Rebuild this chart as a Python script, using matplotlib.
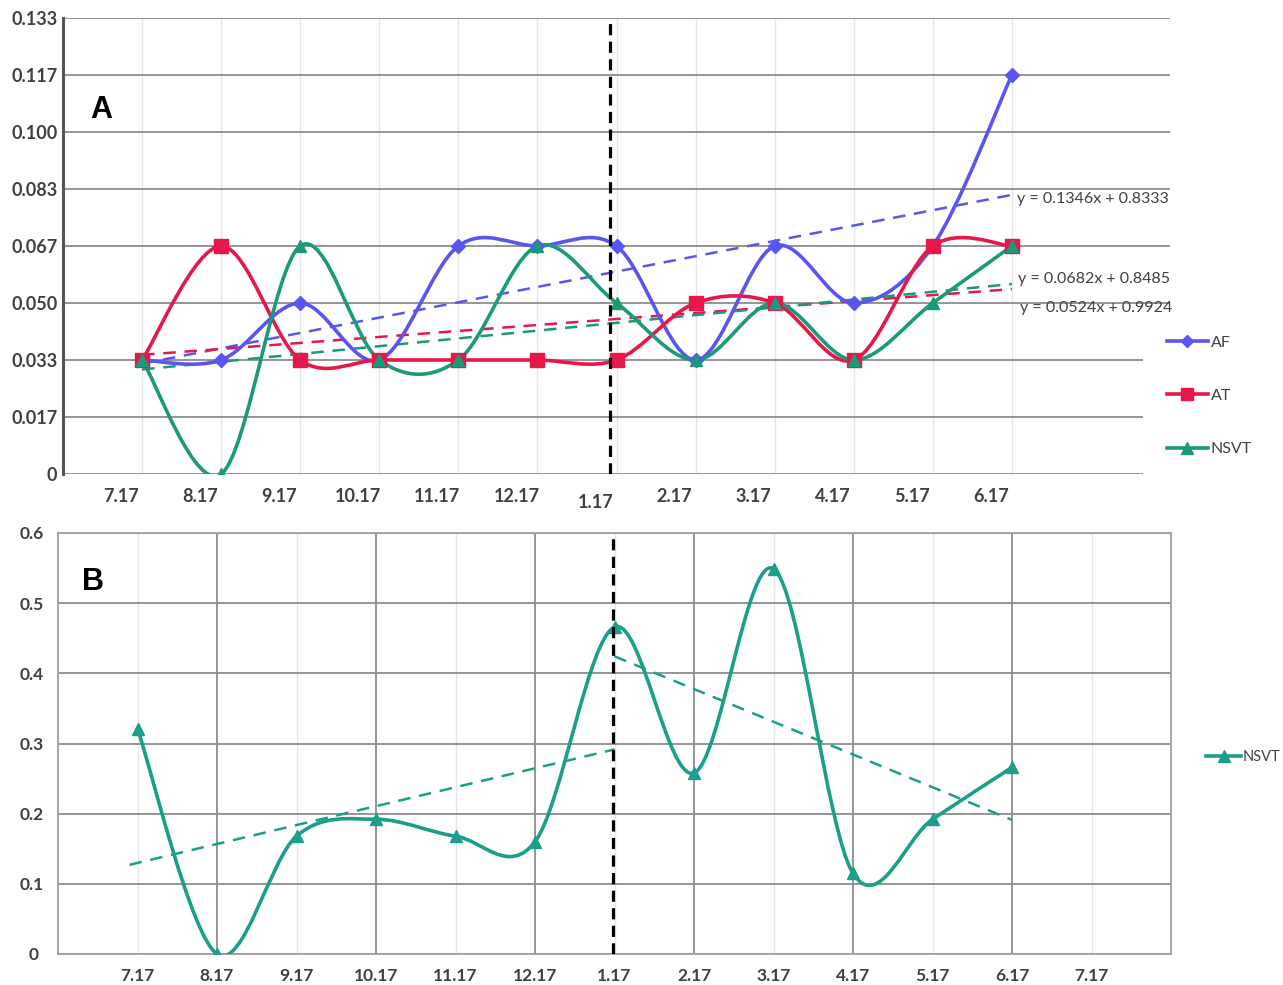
import numpy as np
import matplotlib
matplotlib.use('Agg')
import matplotlib.pyplot as plt
from matplotlib.path import Path
from matplotlib.patches import PathPatch, Rectangle
from matplotlib.lines import Line2D
import matplotlib.transforms as mtransforms

plt.rcParams['font.family'] = ['Lato', 'DejaVu Sans']

# 面板A：每月比例（单位 1/60）
months_a = ['7.17', '8.17', '9.17', '10.17', '11.17', '12.17',
            '1.17', '2.17', '3.17', '4.17', '5.17', '6.17']
af = np.array([2, 2, 3, 2, 4, 4, 4, 2, 4, 3, 4, 7]) / 60
at = np.array([2, 4, 2, 2, 2, 2, 2, 3, 3, 2, 4, 4]) / 60
nsvt_a = np.array([2, 0, 4, 2, 2, 4, 3, 2, 3, 2, 3, 4]) / 60
yticks_a = np.arange(0, 9) / 60
eq_labels = ['y = 0.1346x + 0.8333', 'y = 0.0682x + 0.8485', 'y = 0.0524x + 0.9924']

# 面板B
months_b = ['7.17', '8.17', '9.17', '10.17', '11.17', '12.17',
            '1.17', '2.17', '3.17', '4.17', '5.17', '6.17', '7.17']
nsvt_b = [0.321, 0.0, 0.168, 0.192, 0.168, 0.160, 0.466,
          0.258, 0.549, 0.115, 0.192, 0.266]

C_AF = '#5a55f0'
C_AT = '#e8174a'
C_NS = '#1a9a78'
C_NSB = '#1b9e8a'
GRID_DARK = '#8c8c8c'
GRID_LIGHT = '#e6e6e6'
TXT = '#404040'


def smooth_path(x, y):
    # Excel风格的平滑线（Catmull-Rom 转 Bezier）
    pts = np.column_stack([x, y])
    verts = [pts[0]]
    codes = [Path.MOVETO]
    n = len(pts)
    for i in range(n - 1):
        p0 = pts[i - 1] if i > 0 else pts[i]
        p1 = pts[i]
        p2 = pts[i + 1]
        p3 = pts[i + 2] if i + 2 < n else pts[i + 1]
        verts += [p1 + (p2 - p0) / 6, p2 - (p3 - p1) / 6, p2]
        codes += [Path.CURVE4] * 3
    return Path(verts, codes)


def draw_series(ax, x, y, color, marker, ms):
    ax.add_patch(PathPatch(smooth_path(x, y), facecolor='none', edgecolor=color,
                           lw=2.6, zorder=4, capstyle='round'))
    ax.plot(x, y, linestyle='none', marker=marker, ms=ms, color=color, zorder=5)


fig = plt.figure(figsize=(12.83, 9.85), dpi=100)

# ---------------- 面板 A ----------------
ax1 = fig.add_axes([63 / 1283, 1 - 474 / 985, 1107 / 1283, 456 / 985])
xa = np.arange(1, len(months_a) + 1)
ax1.set_xlim(0, 14)
ax1.set_ylim(0, 8 / 60)
ax1.set_yticks(yticks_a)
ax1.set_yticklabels(['0'] + ['%.3f' % v for v in yticks_a[1:]])
ax1.yaxis.grid(True, color=GRID_DARK, lw=1.3, zorder=0)
for xv in xa:
    ax1.axvline(xv, color=GRID_LIGHT, lw=1.0, zorder=0)
for s in ['top', 'right', 'bottom']:
    ax1.spines[s].set_visible(False)
ax1.spines['left'].set_color('#555555')
ax1.spines['left'].set_linewidth(2.2)
ax1.set_xticks(xa)
ax1.set_xticklabels(months_a)
ax1.tick_params(axis='both', length=0, labelsize=13, labelcolor=TXT)
ax1.tick_params(axis='x', pad=10)
ax1.tick_params(axis='y', pad=4)
for lab in ax1.get_xticklabels() + ax1.get_yticklabels():
    lab.set_fontweight('bold')
shift = mtransforms.ScaledTranslation(-21 / 100, 0, fig.dpi_scale_trans)
for i, lab in enumerate(ax1.get_xticklabels()):
    off = mtransforms.ScaledTranslation(0, -6 / 100 if months_a[i] == '1.17' else 0, fig.dpi_scale_trans)
    lab.set_transform(lab.get_transform() + shift + off)

# 趋势线
for yv, c in [(af, C_AF), (at, C_AT), (nsvt_a, C_NS)]:
    k, b = np.polyfit(xa, yv, 1)
    ax1.plot([1, 12], [k * 1 + b, k * 12 + b], ls=(0, (5, 3.5)), color=c, lw=1.8, zorder=3)

draw_series(ax1, xa, af, C_AF, 'D', 7.5)
draw_series(ax1, xa, at, C_AT, 's', 9.5)
draw_series(ax1, xa, nsvt_a, C_NS, '^', 9)

ax1.axvline(6.92, ymin=0, ymax=1, color='black', lw=2.3, ls=(0, (3.5, 2)), zorder=6)

ax1.text(12.07, 0.0803, eq_labels[0], fontsize=11.5, color=TXT, va='center', ha='left')
ax1.text(12.08, 0.0570, eq_labels[1], fontsize=11.5, color=TXT, va='center', ha='left')
ax1.text(12.1, 0.0485, eq_labels[2], fontsize=11.5, color=TXT, va='center', ha='left')
ax1.text(0.34, 0.1065, 'A', fontsize=22, fontweight='bold', color='black',
         family='Liberation Sans', va='center', ha='left')

# 图例区域的白底（遮住右侧网格线）
fig.add_artist(Rectangle((1143 / 1283, 1 - 480 / 985), 40 / 1283, 160 / 985,
                         transform=fig.transFigure, facecolor='white',
                         edgecolor='none', zorder=1))

handles_a = [Line2D([], [], color=C_AF, marker='D', ms=6, lw=2.6),
             Line2D([], [], color=C_AT, marker='s', ms=9, lw=2.6),
             Line2D([], [], color=C_NS, marker='^', ms=8, lw=2.6)]
leg1 = fig.legend(handles_a, ['AF', 'AT', 'NSVT'], loc='upper left',
                  bbox_to_anchor=(1157 / 1283, 1 - 326 / 985), frameon=False,
                  fontsize=11.5, labelspacing=2.45, handlelength=2.6,
                  handletextpad=0.15, borderpad=0.6, borderaxespad=0)
leg1.set_zorder(2)
for t in leg1.get_texts():
    t.set_color(TXT)

# ---------------- 面板 B ----------------
ax2 = fig.add_axes([58 / 1283, 1 - 954 / 985, 1113 / 1283, 421 / 985])
xb = np.arange(1, len(nsvt_b) + 1)
xlab_b = np.arange(1, len(months_b) + 1)
ax2.set_xlim(0, 14)
ax2.set_ylim(0, 0.6)
ax2.set_yticks(np.arange(0, 0.61, 0.1))
ax2.set_yticklabels(['0', '0.1', '0.2', '0.3', '0.4', '0.5', '0.6'])
ax2.yaxis.grid(True, color=GRID_DARK, lw=1.3, zorder=0)
for xv in xlab_b:
    ax2.axvline(xv, color=GRID_DARK if xv % 2 == 0 else GRID_LIGHT, lw=1.3 if xv % 2 == 0 else 1.0, zorder=0)
for s in ax2.spines.values():
    s.set_color('#a0a0a0')
    s.set_linewidth(1.3)
ax2.set_xticks(xlab_b)
ax2.set_xticklabels(months_b)
ax2.tick_params(axis='x', length=0, labelsize=12.5, labelcolor=TXT, pad=10)
ax2.tick_params(axis='y', length=0, labelsize=12.5, labelcolor=TXT, pad=14)
for lab in ax2.get_xticklabels() + ax2.get_yticklabels():
    lab.set_fontweight('bold')
for lab in ax2.get_yticklabels()[1:]:
    lab.set_transform(lab.get_transform() + mtransforms.ScaledTranslation(5 / 100, 0, fig.dpi_scale_trans))

k1, b1 = np.polyfit(xb[:7], nsvt_b[:7], 1)
ax2.plot([0.9, 7], [k1 * 0.9 + b1, k1 * 7 + b1], ls=(0, (5, 3.5)), color=C_NSB, lw=1.8, zorder=3)
k2, b2 = np.polyfit(xb[6:], nsvt_b[6:], 1)
ax2.plot([7, 12], [k2 * 7 + b2, k2 * 12 + b2], ls=(0, (5, 3.5)), color=C_NSB, lw=1.8, zorder=3)

draw_series(ax2, xb, np.array(nsvt_b), C_NSB, '^', 9)
ax2.axvline(6.98, color='black', lw=2.3, ls=(0, (3.5, 2)), zorder=6)
ax2.text(0.3, 0.53, 'B', fontsize=22, fontweight='bold', color='black',
         family='Liberation Sans', va='center', ha='left')

leg2 = fig.legend([Line2D([], [], color=C_NSB, marker='^', ms=8, lw=2.6)], ['NSVT'],
                  loc='center left', bbox_to_anchor=(1193 / 1283, 1 - 757 / 985),
                  frameon=False, fontsize=10.5, handlelength=2.4, handletextpad=0.1)
for t in leg2.get_texts():
    t.set_color(TXT)

fig.savefig('out.png', dpi=100)
